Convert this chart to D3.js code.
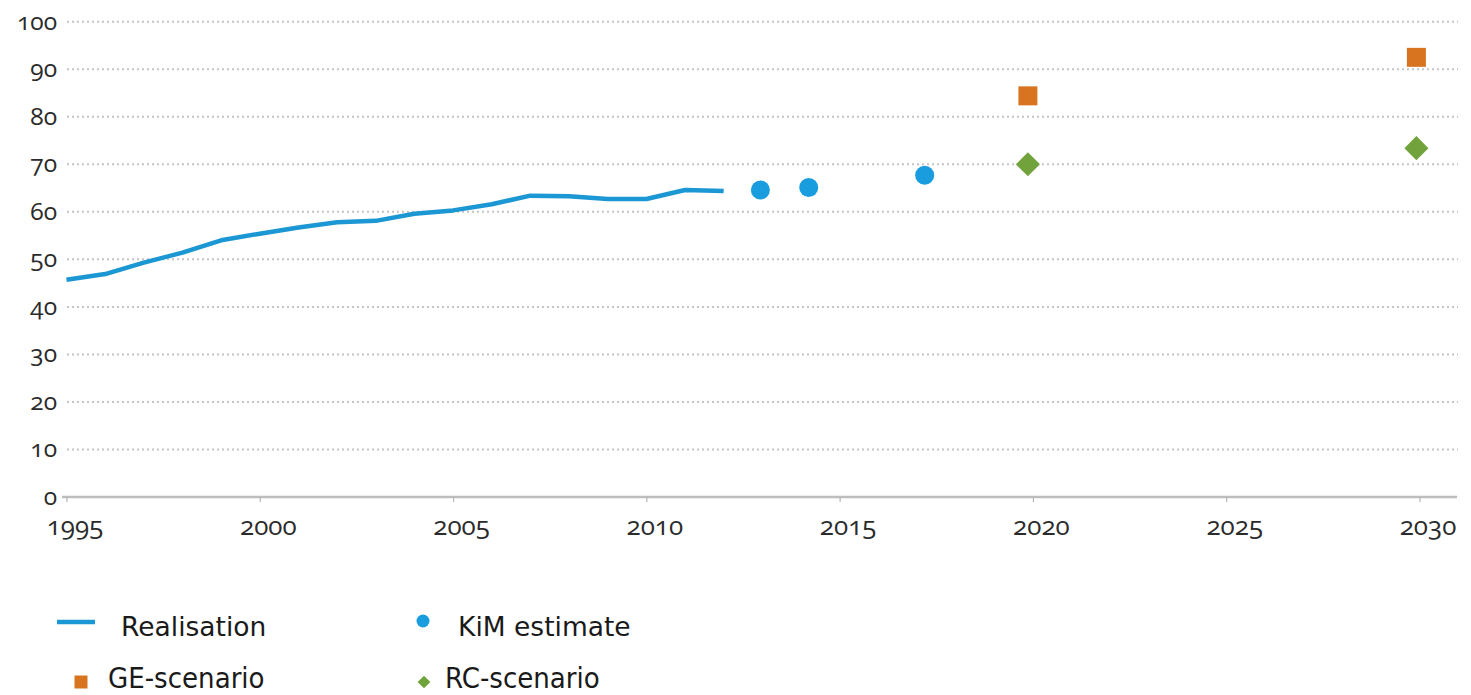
<!DOCTYPE html>
<html>
<head>
<meta charset="utf-8">
<script src="https://cdn.jsdelivr.net/npm/d3@7"></script>
<style>
  html, body { margin: 0; padding: 0; background: #fff; }
  svg { display: block; }
  .tick-label { font-family: "Open Sans", Lato, sans-serif; font-variant-numeric: oldstyle-nums; font-feature-settings: "onum" 1; fill: #2b2b2b; }
  .legend-text { font-family: "DejaVu Sans", Verdana, sans-serif; fill: #1a1a1a; }
  .legend-text.cond { font-family: "DejaVu Sans Condensed", "DejaVu Sans", sans-serif; }
</style>
</head>
<body>
<svg id="chart" width="1471" height="695"></svg>
<script>
// Realised values per year
const realYears  = [1995,1996,1997,1998,1999,2000,2001,2002,2003,2004,2005,2006,2007,2008,2009,2010,2011,2012];
const realValues = [45.7,46.9,49.3,51.4,54.0,55.4,56.7,57.8,58.1,59.6,60.3,61.6,63.4,63.3,62.7,62.7,64.6,64.4];

// KiM estimates
const kimYears  = [2012.95, 2014.2, 2017.2];
const kimValues = [64.6, 65.1, 67.7];

// Scenario outcomes
const geYears  = [2019.87, 2029.92];
const geValues = [84.4, 92.5];
const rcYears  = [2019.87, 2029.92];
const rcValues = [70.0, 73.4];

// Axis ticks
const xTicks = [1995, 2000, 2005, 2010, 2015, 2020, 2025, 2030];
const yTicks = [0, 10, 20, 30, 40, 50, 60, 70, 80, 90, 100];

// Legend entries
const legendLabels = ["Realisation", "KiM estimate", "GE-scenario", "RC-scenario"];

const colors = {
  line: "#1b97d3",
  kim: "#1a9ddf",
  ge: "#d8741f",
  rc: "#72a23b",
  grid: "#c4c4c4",
  axis: "#bdbdbd"
};

const svg = d3.select("#chart");

const x = d3.scaleLinear().domain([1995, 2030]).range([66.5, 1419.5]);
const y = d3.scaleLinear().domain([0, 100]).range([497, 21.7]);

const gridRight = 1458;

// Dotted horizontal gridlines
svg.append("g")
  .selectAll("line")
  .data(yTicks.filter(d => d > 0))
  .join("line")
  .attr("x1", 67)
  .attr("x2", gridRight)
  .attr("y1", d => y(d))
  .attr("y2", d => y(d))
  .attr("stroke", colors.grid)
  .attr("stroke-width", 2)
  .attr("stroke-dasharray", "2,3");

// Y tick labels
svg.append("g")
  .selectAll("text")
  .data(yTicks)
  .join("text")
  .attr("class", "tick-label")
  .attr("x", 57)
  .attr("y", d => y(d))
  .attr("dy", "0.32em")
  .attr("text-anchor", "end")
  .attr("font-size", 24.5)
  .text(d => d);

// X axis baseline and ticks
const xAxis = d3.axisBottom(x)
  .tickValues(xTicks)
  .tickSize(5)
  .tickPadding(12.5)
  .tickFormat(d3.format("d"));

const gx = svg.append("g")
  .attr("transform", `translate(0,${y(0)})`)
  .call(xAxis);

gx.select(".domain").remove();
gx.insert("line", ":first-child")
  .attr("x1", 62)
  .attr("x2", 1457)
  .attr("stroke", colors.axis)
  .attr("stroke-width", 2.5);
gx.selectAll(".tick line").attr("stroke", "#b5b5b5").attr("stroke-width", 1.2);
gx.selectAll(".tick text")
  .attr("class", "tick-label")
  .attr("font-size", 26)
  .attr("dx", 8)
  .attr("dy", "0.8em");

// Realisation line
const line = d3.line()
  .x((d, i) => x(realYears[i]))
  .y(d => y(d));

svg.append("path")
  .datum(realValues)
  .attr("fill", "none")
  .attr("stroke", colors.line)
  .attr("stroke-width", 4.5)
  .attr("stroke-linejoin", "round")
  .attr("d", line);

// KiM estimates
svg.append("g")
  .selectAll("circle")
  .data(kimValues)
  .join("circle")
  .attr("cx", (d, i) => x(kimYears[i]))
  .attr("cy", d => y(d))
  .attr("r", 9.5)
  .attr("fill", colors.kim);

// GE scenario squares
const sq = d3.symbol().type(d3.symbolSquare).size(19 * 19);
svg.append("g")
  .selectAll("path")
  .data(geValues)
  .join("path")
  .attr("transform", (d, i) => `translate(${x(geYears[i])},${y(d)})`)
  .attr("d", sq)
  .attr("fill", colors.ge);

// RC scenario diamonds
const diamond = d3.symbol().type(d3.symbolSquare).size(17 * 17);
svg.append("g")
  .selectAll("path")
  .data(rcValues)
  .join("path")
  .attr("transform", (d, i) => `translate(${x(rcYears[i])},${y(d)}) rotate(45)`)
  .attr("d", diamond)
  .attr("fill", colors.rc);

// Legend
const legend = svg.append("g");

// Realisation
legend.append("line")
  .attr("x1", 57).attr("x2", 95)
  .attr("y1", 622).attr("y2", 622)
  .attr("stroke", colors.line)
  .attr("stroke-width", 4.5);
legend.append("text")
  .attr("class", "legend-text")
  .attr("x", 121).attr("y", 636)
  .attr("font-size", 26.5)
  .text(legendLabels[0]);

// KiM estimate
legend.append("circle")
  .attr("cx", 423).attr("cy", 621)
  .attr("r", 6.5)
  .attr("fill", colors.kim);
legend.append("text")
  .attr("class", "legend-text")
  .attr("x", 458).attr("y", 636)
  .attr("font-size", 26.5)
  .text(legendLabels[1]);

// GE scenario
legend.append("path")
  .attr("transform", "translate(81,682)")
  .attr("d", d3.symbol().type(d3.symbolSquare).size(13 * 13))
  .attr("fill", colors.ge);
legend.append("text")
  .attr("class", "legend-text cond")
  .attr("x", 108).attr("y", 688)
  .attr("font-size", 29)
  .text(legendLabels[2]);

// RC scenario
legend.append("path")
  .attr("transform", "translate(424,682) rotate(45)")
  .attr("d", d3.symbol().type(d3.symbolSquare).size(9 * 9))
  .attr("fill", colors.rc);
legend.append("text")
  .attr("class", "legend-text cond")
  .attr("x", 445).attr("y", 688)
  .attr("font-size", 29)
  .text(legendLabels[3]);
</script>
</body>
</html>
